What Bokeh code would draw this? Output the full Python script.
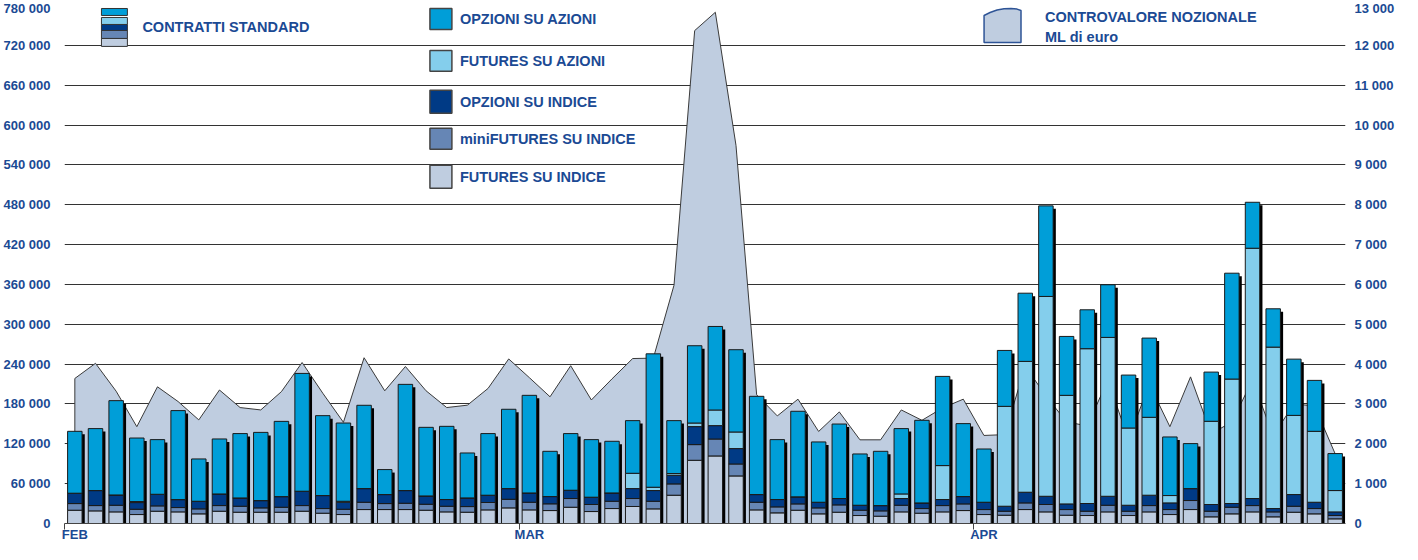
from bokeh.plotting import figure
from bokeh.models import Range1d, LinearAxis, FixedTicker, ColumnDataSource
from bokeh.embed import file_html
from bokeh.resources import INLINE
from bokeh.core.properties import value

# ---------------- data (contratti standard, daily) ----------------
futures_indice = [20000, 19000, 17500, 13500, 18500, 17500, 14500, 18500, 17000, 17000,
                  17000, 18500, 15500, 13500, 21000, 21000, 21000, 20000, 17500, 17000,
                  20500, 23500, 20500, 19500, 24500, 18000, 22500, 25600, 22000, 42600,
                  95200, 101700, 71600, 20500, 16000, 20000, 14500, 17000, 12000, 11000,
                  17500, 15500, 17500, 19500, 13500, 12500, 21000, 17500, 12500, 12000,
                  17500, 12000, 17500, 13500, 21000, 10000, 14500, 17500, 10000, 17000,
                  14500, 7000]
mini_futures_indice = [10000, 8000, 10000, 8000, 8000, 6500, 7500, 8500, 9000, 6500,
                       7500, 8500, 7000, 8000, 11000, 9000, 9500, 9000, 8500, 8500,
                       11100, 13000, 11500, 10100, 13100, 10600, 11000, 12000, 11500, 17000,
                       23600, 25500, 18000, 11500, 9000, 9500, 9000, 11000, 8000, 8000,
                       10000, 7000, 9500, 10000, 7500, 6000, 10000, 11100, 8500, 6500,
                       10000, 6500, 9500, 7500, 13600, 8500, 10000, 9500, 7500, 9000,
                       8000, 5000]
opzioni_indice = [15600, 22600, 15500, 10000, 17500, 12000, 11500, 17500, 12500, 11000,
                  16000, 21600, 19600, 10500, 20600, 13600, 19100, 12500, 10100, 13000,
                  11000, 16100, 14000, 11000, 12500, 11000, 12500, 15000, 16100, 13000,
                  27100, 20200, 23200, 11600, 11100, 10600, 8500, 9600, 7500, 8000,
                  10100, 8500, 9100, 11100, 11000, 7500, 16100, 12400, 8500, 11600,
                  13500, 9000, 15600, 10000, 18000, 10100, 5600, 10600, 5000, 17600,
                  9500, 5500]
futures_azioni = [0, 0, 0, 1500, 0, 0, 0, 0, 0, 0,
                  0, 0, 0, 1500, 0, 0, 0, 0, 0, 0,
                  0, 0, 0, 0, 0, 0, 0, 23000, 5000, 2600,
                  5400, 23500, 25000, 0, 0, 0, 0, 0, 0, 0,
                  6900, 0, 51100, 0, 0, 150400, 197000, 300900, 163500, 233100,
                  239200, 116300, 117300, 11100, 0, 125300, 187400, 376900, 243100, 119200,
                  106800, 32100]
opzioni_azioni = [93200, 93300, 142000, 95700, 82300, 134000, 63700, 82800, 96900, 102700,
                  113300, 177400, 120300, 117800, 125400, 37600, 159900, 103300, 110200, 67700,
                  92800, 119400, 147000, 68100, 85300, 86700, 77800, 79300, 200900, 79700,
                  116400, 125800, 123900, 147900, 90200, 128900, 90800, 112200, 77200, 81700,
                  98400, 124400, 134300, 109800, 80200, 84200, 102700, 136400, 88700, 58600,
                  79300, 79700, 119300, 88200, 67700, 74100, 159400, 69200, 57700, 84700,
                  76700, 55700]
# controvalore nozionale, ML di euro (right axis)
controvalore = [3640, 4020, 3320, 2430, 3430, 3060, 2600, 3350, 2910, 2850,
                3310, 4040, 3270, 2540, 4160, 3330, 3940, 3330, 2910, 2970,
                3390, 4130, 3660, 3180, 3960, 3100, 3630, 4140, 4150, 5980,
                12370, 12830, 9490, 3230, 2700, 3120, 2310, 2800, 2100, 2100,
                2850, 2590, 2900, 3120, 2210, 2230, 3950, 3200, 2550, 2450,
                3600, 2100, 3500, 2430, 3680, 2250, 2550, 3600, 2200, 3000,
                2950, 1750]

month_labels = ["FEB", "MAR", "APR"]
month_first_bar = [0, 22, 44]

left_ticks = [0, 60000, 120000, 180000, 240000, 300000, 360000, 420000,
              480000, 540000, 600000, 660000, 720000, 780000]
left_tick_labels = ["0", "60 000", "120 000", "180 000", "240 000", "300 000", "360 000",
                    "420 000", "480 000", "540 000", "600 000", "660 000", "720 000", "780 000"]
right_ticks = [0, 1000, 2000, 3000, 4000, 5000, 6000, 7000, 8000, 9000,
               10000, 11000, 12000, 13000]
right_tick_labels = ["0", "1 000", "2 000", "3 000", "4 000", "5 000", "6 000", "7 000",
                     "8 000", "9 000", "10 000", "11 000", "12 000", "13 000"]

series_names = ["FUTURES SU INDICE", "miniFUTURES SU INDICE", "OPZIONI SU INDICE",
                "FUTURES SU AZIONI", "OPZIONI SU AZIONI"]
series_colors = ["#BFCDE0", "#6686B5", "#003A85", "#84CEEC", "#009ED8"]

# ---------------- styles ----------------
FONT = "Liberation Sans"
TXT = "#1B4A94"
AREA = "#BFCDE0"
N = len(opzioni_azioni)

W, H = 1402, 544
ML, MR, MT, MB = 62, 57, 5, 20
FW, FH = W - ML - MR, H - MT - MB

p = figure(width=W, height=H, x_range=Range1d(-0.5, N - 0.5), y_range=Range1d(0, 780000),
           output_backend="svg", toolbar_location=None,
           min_border_left=ML, min_border_right=MR, min_border_top=MT, min_border_bottom=MB)
p.outline_line_color = None
p.background_fill_color = "white"
p.border_fill_color = "white"
p.extra_y_ranges = {"r": Range1d(0, 13000)}

p.xgrid.visible = False
p.ygrid.ticker = FixedTicker(ticks=left_ticks)
p.ygrid.grid_line_color = "#333333"
p.ygrid.grid_line_width = 1

# left axis
ya = p.yaxis[0]
ya.ticker = FixedTicker(ticks=left_ticks)
ya.major_label_overrides = {t: s for t, s in zip(left_ticks, left_tick_labels)}
# right axis
ra = LinearAxis(y_range_name="r", ticker=FixedTicker(ticks=right_ticks))
ra.major_label_overrides = {t: s for t, s in zip(right_ticks, right_tick_labels)}
p.add_layout(ra, "right")
for ax, st in ((ya, 14), (ra, 9)):
    ax.axis_line_color = None
    ax.major_tick_line_color = None
    ax.minor_tick_line_color = None
    ax.major_tick_out = 0
    ax.major_tick_in = 0
    ax.axis_label_standoff = 0
    ax.major_label_standoff = st
    ax.major_label_text_font = FONT
    ax.major_label_text_font_style = "bold"
    ax.major_label_text_font_size = "13px"
    ax.major_label_text_color = TXT

# x axis: month names under the first bar of each month, ticks at month boundaries
xa = p.xaxis[0]
xa.ticker = FixedTicker(ticks=month_first_bar, minor_ticks=[b - 0.5 for b in month_first_bar])
xa.major_label_overrides = {b: m for b, m in zip(month_first_bar, month_labels)}
xa.major_tick_line_color = None
xa.major_tick_in = 0
xa.major_tick_out = 0
xa.minor_tick_line_color = "#444444"
xa.minor_tick_in = 0
xa.minor_tick_out = 6
xa.axis_line_color = "#444444"
xa.axis_label_standoff = 0
xa.major_label_standoff = -3
xa.major_label_text_font = FONT
xa.major_label_text_font_style = "bold"
xa.major_label_text_font_size = "13px"
xa.major_label_text_line_height = 1.0
xa.major_label_text_color = TXT

px_x = FW / N
px_y = 780000 / FH

# ---------------- area (controvalore nozionale) ----------------
xs = list(range(N))
p.patch([0] + xs + [N - 1], [0] + controvalore + [0], y_range_name="r",
        fill_color=AREA, line_color="#3a3a3a", line_width=1)

# ---------------- bars ----------------
totals = [a + b + c + d + e for a, b, c, d, e in
          zip(futures_indice, mini_futures_indice, opzioni_indice, futures_azioni, opzioni_azioni)]
BW = 0.7
p.vbar(x=[x + 2.7 / px_x for x in xs], top=[t - 3 * px_y for t in totals], bottom=0,
       width=BW, fill_color="black", line_color=None)

src = ColumnDataSource(dict(x=xs, fi=futures_indice, mini=mini_futures_indice,
                            oi=opzioni_indice, fa=futures_azioni, oa=opzioni_azioni))
p.vbar_stack(["fi", "mini", "oi", "fa", "oa"], x="x", width=BW, source=src,
             fill_color=series_colors, line_color="#1a1a1a", line_width=1)

# ---------------- legend (drawn in page pixels, converted) ----------------
def dx(px):
    return (px - (8 + ML)) / px_x - 0.5


def dy(py):
    return (8 + MT + FH - py) * px_y


def legend_text(px, py, s):
    p.text(x=[dx(px)], y=[dy(py)], text=[s], text_font=value(FONT), text_font_style="bold",
           text_font_size="14.5px", text_color=TXT, text_baseline="middle", text_align="left")


# stacked icon
icon_rows = [(46, 54), (38, 46), (32, 38), (25, 32), (16, 23)]
for (y1, y2), c in zip(icon_rows, series_colors):
    p.quad(left=[dx(107)], right=[dx(133)], top=[dy(y1)], bottom=[dy(y2)],
           fill_color=c, line_color="#333333", line_width=1)
legend_text(148, 35, "CONTRATTI STANDARD")

# series squares
sq_rows = [(173, 196), (136, 157), (98, 121), (58, 79), (16, 37)]
for (y1, y2), c, name in zip(sq_rows, series_colors, series_names):
    p.quad(left=[dx(436)], right=[dx(458)], top=[dy(y1)], bottom=[dy(y2)],
           fill_color=c, line_color="#444444", line_width=1.5)
    legend_text(466, (y1 + y2) / 2, name)

# area icon
ax_px = [991, 991, 997, 1004, 1011, 1018, 1024, 1028, 1028]
ay_px = [50, 23, 20, 17.5, 16.3, 16, 16.6, 18, 50]
p.patch([dx(v) for v in ax_px], [dy(v) for v in ay_px], fill_color=AREA,
        line_color="#2E5496", line_width=1.5)
legend_text(1052, 25, "CONTROVALORE NOZIONALE")
legend_text(1052, 45, "ML di euro")

open("out.html", "w").write(file_html(p, INLINE))
